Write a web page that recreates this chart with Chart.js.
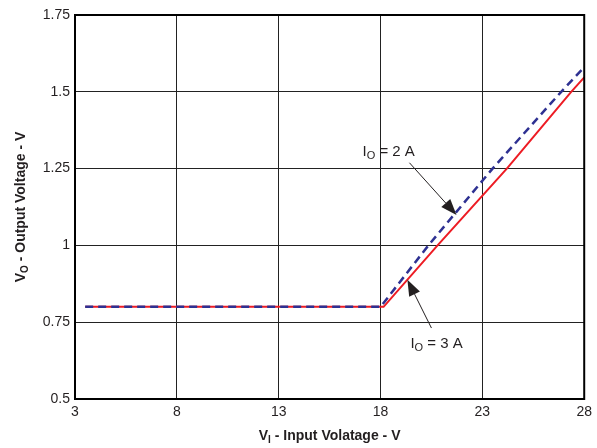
<!DOCTYPE html>
<html>
<head>
<meta charset="utf-8">
<script src="https://cdn.jsdelivr.net/npm/chart.js@4.4.0/dist/chart.umd.min.js"></script>
<style>
  html, body { margin: 0; padding: 0; background: #fff; }
  #wrap { width: 597px; height: 448px; }
</style>
</head>
<body>
<div id="wrap"><canvas id="vChart" width="597" height="448"></canvas></div>
<script>
// Input voltage (V) vs output voltage (V)
const io2x = [3.5, 18.0, 20.35, 23.5, 26.87, 28.0];
const io2y = [0.8, 0.8, 1.0, 1.25, 1.5, 1.58];
const io3x = [3.5, 18.15, 20.8, 24.2, 27.36, 28.0];
const io3y = [0.8, 0.8, 1.0, 1.25, 1.5, 1.547];

const xTicks = [3, 8, 13, 18, 23, 28];
const yTicks = [0.5, 0.75, 1, 1.25, 1.5, 1.75];

const FONT = '"Liberation Sans", Arial, sans-serif';
const TXT = '#231f20';

function pts(xs, ys) {
  return xs.map((x, i) => ({ x: x, y: ys[i] }));
}

// draws text with a subscript part, centred at (cx, cy)
function subText(ctx, parts, cx, cy, big, small, bold) {
  const b = bold ? 'bold ' : '';
  let w = 0;
  parts.forEach(p => {
    ctx.font = b + (p[1] ? small : big) + 'px ' + FONT;
    w += ctx.measureText(p[0]).width;
  });
  let x = cx - w / 2;
  parts.forEach(p => {
    ctx.font = b + (p[1] ? small : big) + 'px ' + FONT;
    ctx.fillText(p[0], x, cy + (p[1] ? 4 : 0));
    x += ctx.measureText(p[0]).width;
  });
}

function arrow(ctx, x1, y1, x2, y2) {
  const ang = Math.atan2(y2 - y1, x2 - x1);
  const hl = 16, hw = 6;
  const bx = x2 - hl * Math.cos(ang), by = y2 - hl * Math.sin(ang);
  ctx.strokeStyle = '#231f20';
  ctx.lineWidth = 1;
  ctx.beginPath();
  ctx.moveTo(x1, y1);
  ctx.lineTo(bx, by);
  ctx.stroke();
  ctx.fillStyle = '#231f20';
  ctx.beginPath();
  ctx.moveTo(x2, y2);
  ctx.lineTo(bx + hw * Math.sin(ang), by - hw * Math.cos(ang));
  ctx.lineTo(bx - hw * Math.sin(ang), by + hw * Math.cos(ang));
  ctx.closePath();
  ctx.fill();
}

const extras = {
  id: 'extras',
  afterDraw(chart) {
    const ctx = chart.ctx;
    const a = chart.chartArea;
    const sx = chart.scales.x, sy = chart.scales.y;
    ctx.save();
    // frame
    ctx.strokeStyle = '#000';
    ctx.lineWidth = 2;
    ctx.strokeRect(a.left, a.top, a.right - a.left, a.bottom - a.top);

    // axis titles
    ctx.fillStyle = TXT;
    ctx.textBaseline = 'middle';
    ctx.textAlign = 'left';
    subText(ctx, [['V', false], ['I', true], [' - Input Volatage - V', false]],
      (a.left + a.right) / 2, 436, 14, 10, true);
    ctx.save();
    ctx.translate(21, (a.top + a.bottom) / 2);
    ctx.rotate(-Math.PI / 2);
    subText(ctx, [['V', false], ['O', true], [' - Output Voltage - V', false]], 0, 0, 14, 10, true);
    ctx.restore();

    // annotations
    subText(ctx, [['I', false], ['O', true], [' = 2 A', false]],
      sx.getPixelForValue(18.4), sy.getPixelForValue(1.305), 15, 11, false);
    arrow(ctx, sx.getPixelForValue(19.42), sy.getPixelForValue(1.269),
      sx.getPixelForValue(21.73), sy.getPixelForValue(1.099));
    subText(ctx, [['I', false], ['O', true], [' = 3 A', false]],
      sx.getPixelForValue(20.75), sy.getPixelForValue(0.68), 15, 11, false);
    arrow(ctx, sx.getPixelForValue(20.5), sy.getPixelForValue(0.731),
      sx.getPixelForValue(19.32), sy.getPixelForValue(0.888));
    ctx.restore();
  }
};

new Chart(document.getElementById('vChart').getContext('2d'), {
  type: 'scatter',
  data: {
    datasets: [{
      label: 'IO = 2 A',
      data: pts(io2x, io2y),
      showLine: true,
      borderColor: '#2e3192',
      borderWidth: 2.5,
      borderDash: [8, 5],
      pointRadius: 0,
      tension: 0
    }, {
      label: 'IO = 3 A',
      data: pts(io3x, io3y),
      showLine: true,
      borderColor: '#ed1c24',
      borderWidth: 2,
      pointRadius: 0,
      tension: 0
    }]
  },
  options: {
    responsive: false,
    animation: false,
    devicePixelRatio: 1,
    layout: { padding: { left: 0, top: 15, right: 12, bottom: 0 } },
    plugins: { legend: { display: false }, tooltip: { enabled: false } },
    scales: {
      x: {
        type: 'linear',
        min: 3, max: 28,
        afterBuildTicks: s => { s.ticks = xTicks.map(v => ({ value: v })); },
        afterFit: s => { s.height = 49; },
        grid: { color: '#222', lineWidth: 1, drawTicks: false },
        border: { display: false },
        ticks: { color: TXT, font: { family: FONT, size: 14 }, padding: 5, maxRotation: 0 }
      },
      y: {
        type: 'linear',
        min: 0.5, max: 1.75,
        afterBuildTicks: s => { s.ticks = yTicks.map(v => ({ value: v })); },
        afterFit: s => { s.width = 75; },
        grid: { color: '#222', lineWidth: 1, drawTicks: false },
        border: { display: false },
        ticks: { color: TXT, font: { family: FONT, size: 14 }, padding: 5,
          callback: v => String(+v.toFixed(2)) }
      }
    }
  },
  plugins: [extras]
});
</script>
</body>
</html>
